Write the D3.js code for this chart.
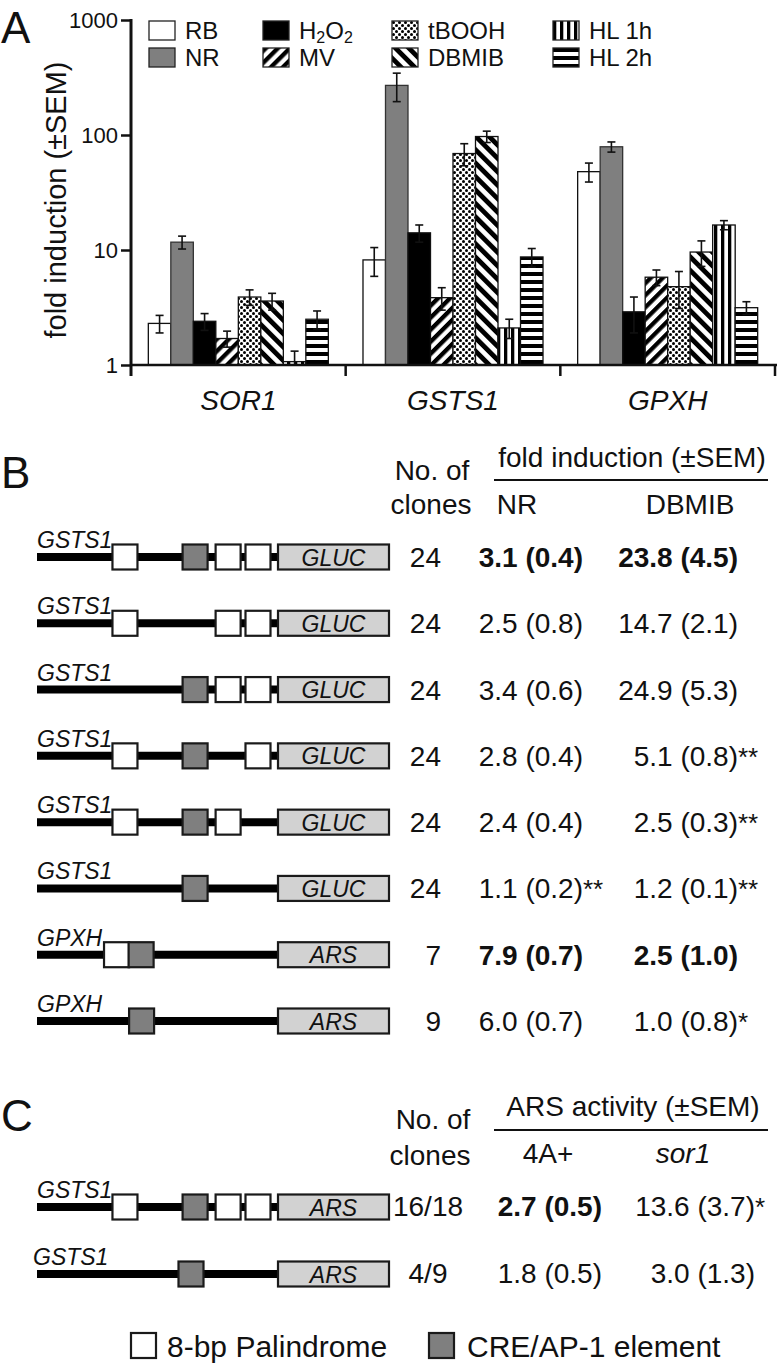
<!DOCTYPE html>
<html>
<head>
<meta charset="utf-8">
<script src="https://cdn.jsdelivr.net/npm/d3@7"></script>
<style>
  body { margin: 0; background: #fff; }
  svg text { fill: #111; }
</style>
</head>
<body>
<div id="fig"></div>
<script>
// ---- Panel A data: fold induction (log scale) ----
const genes = ["SOR1", "GSTS1", "GPXH"];
const treatments = ["RB", "NR", "H2O2", "MV", "tBOOH", "DBMIB", "HL 1h", "HL 2h"];
const sor1Fold = [2.3, 11.7, 2.4, 1.7, 3.9, 3.6, 1.07, 2.5];
const sor1Sem = [0.4, 1.5, 0.4, 0.27, 0.6, 0.6, 0.25, 0.45];
const gsts1Fold = [8.2, 270, 14.1, 3.85, 69, 97, 2.1, 8.7];
const gsts1Sem = [2.3, 75, 2.4, 0.85, 15, 11, 0.4, 1.6];
const gpxhFold = [48, 79, 2.9, 5.8, 4.8, 9.6, 16.5, 3.15];
const gpxhSem = [9, 8, 1.0, 0.9, 1.7, 2.4, 1.5, 0.4];
const yTicks = [1, 10, 100, 1000];

// ---- Panel B data: promoter constructs ----
const geneB = ["GSTS1", "GSTS1", "GSTS1", "GSTS1", "GSTS1", "GSTS1", "GPXH", "GPXH"];
const reporterB = ["GLUC", "GLUC", "GLUC", "GLUC", "GLUC", "GLUC", "ARS", "ARS"];
// element positions along the promoter (0 = start, 100 = reporter)
const palindromeB = [[36.5, 79.3, 91.7], [36.5, 79.3, 91.7], [79.3, 91.7], [36.5, 91.7], [36.5, 79.3], [], [33], []];
const creB = [[65.6], [], [65.6], [65.6], [65.6], [65.6], [43.2], [43.4]];
const clonesB = ["24", "24", "24", "24", "24", "24", "7", "9"];
const nrB = ["3.1 (0.4)", "2.5 (0.8)", "3.4 (0.6)", "2.8 (0.4)", "2.4 (0.4)", "1.1 (0.2)", "7.9 (0.7)", "6.0 (0.7)"];
const nrSigB = ["", "", "", "", "", "**", "", ""];
const dbmibB = ["23.8 (4.5)", "14.7 (2.1)", "24.9 (5.3)", "5.1 (0.8)", "2.5 (0.3)", "1.2 (0.1)", "2.5 (1.0)", "1.0 (0.8)"];
const dbmibSigB = ["", "", "", "**", "**", "**", "", "*"];
const boldB = [true, false, false, false, false, false, true, false];

// ---- Panel C data ----
const geneC = ["GSTS1", "GSTS1"];
const palindromeC = [[36.5, 79.3, 91.7], []];
const creC = [[65.6], [63.9]];
const clonesC = ["16/18", "4/9"];
const wtC = ["2.7 (0.5)", "1.8 (0.5)"];
const wtBoldC = [true, false];
const sor1C = ["13.6 (3.7)", "3.0 (1.3)"];
const sor1SigC = ["*", ""];

const FONT = "'Liberation Sans', Arial, Helvetica, sans-serif";

const svg = d3.select("#fig").append("svg")
  .attr("width", 784)
  .attr("height", 1368)
  .style("font-family", FONT);

// hatch patterns
const defs = svg.append("defs");
function stripePattern(id, size, barW, angle) {
  const p = defs.append("pattern")
    .attr("id", id)
    .attr("patternUnits", "userSpaceOnUse")
    .attr("width", size)
    .attr("height", size)
    .attr("patternTransform", "rotate(" + angle + ")");
  p.append("rect").attr("width", size).attr("height", size).attr("fill", "#fff");
  p.append("rect").attr("width", barW).attr("height", size).attr("fill", "#000");
}
stripePattern("pMV", 8.5, 4.3, 45);
stripePattern("pDB", 9.5, 4.8, -45);
stripePattern("pHL1", 7, 3.3, 0);
stripePattern("pHL2", 8, 4, 90);
const dots = defs.append("pattern")
  .attr("id", "pTB")
  .attr("patternUnits", "userSpaceOnUse")
  .attr("width", 6).attr("height", 6);
dots.append("rect").attr("width", 6).attr("height", 6).attr("fill", "#fff");
dots.append("circle").attr("cx", 1.5).attr("cy", 1.5).attr("r", 1.5).attr("fill", "#000");
dots.append("circle").attr("cx", 4.5).attr("cy", 4.5).attr("r", 1.5).attr("fill", "#000");

const fills = d3.scaleOrdinal()
  .domain(treatments)
  .range(["#fff", "#7f7f7f", "#000", "url(#pMV)", "url(#pTB)", "url(#pDB)", "url(#pHL1)", "url(#pHL2)"]);

function panelLetter(txt, x, y) {
  svg.append("text")
    .attr("x", x).attr("y", y)
    .attr("font-size", 44)
    .text(txt);
}

// ================= Panel A =================
panelLetter("A", 1, 43);

const y = d3.scaleLog().domain([1, 1000]).range([365, 20]).clamp(true);
const xGene = d3.scaleBand().domain(genes).range([131, 775]);
const xTreat = d3.scaleBand().domain(treatments).range([0, xGene.bandwidth()]).paddingOuter(0.77);

const foldData = [sor1Fold, gsts1Fold, gpxhFold];
const semData = [sor1Sem, gsts1Sem, gpxhSem];
const rows = [];
genes.forEach(function(g, gi) {
  treatments.forEach(function(t, ti) {
    rows.push({ gene: g, t: t, v: foldData[gi][ti], e: semData[gi][ti] });
  });
});

const chartA = svg.append("g");

chartA.selectAll("rect.bar")
  .data(rows)
  .enter()
  .append("rect")
  .attr("class", "bar")
  .attr("x", function(d) { return xGene(d.gene) + xTreat(d.t); })
  .attr("width", xTreat.bandwidth())
  .attr("y", function(d) { return y(d.v); })
  .attr("height", function(d) { return y(1) - y(d.v); })
  .attr("fill", function(d) { return fills(d.t); })
  .attr("stroke", function(d) { return d.t === "NR" ? "#333" : "#111"; })
  .attr("stroke-width", 1.3);

// error bars
const err = chartA.selectAll("g.err")
  .data(rows)
  .enter()
  .append("g")
  .attr("class", "err")
  .attr("transform", function(d) {
    return "translate(" + (xGene(d.gene) + xTreat(d.t) + xTreat.bandwidth() / 2) + ",0)";
  })
  .attr("stroke", "#111")
  .attr("stroke-width", 1.6);
err.append("line")
  .attr("y1", function(d) { return y(d.v + d.e); })
  .attr("y2", function(d) { return y(Math.max(d.v - d.e, 1)); });
err.append("line")
  .attr("x1", -4).attr("x2", 4)
  .attr("y1", function(d) { return y(d.v + d.e); })
  .attr("y2", function(d) { return y(d.v + d.e); });
err.filter(function(d) { return d.v - d.e > 1; })
  .append("line")
  .attr("x1", -4).attr("x2", 4)
  .attr("y1", function(d) { return y(d.v - d.e); })
  .attr("y2", function(d) { return y(d.v - d.e); });

// y axis
const yAxis = chartA.append("g")
  .attr("transform", "translate(131,0)")
  .call(d3.axisLeft(y).tickValues(yTicks).tickFormat(d3.format("d")).tickSize(10).tickSizeOuter(0).tickPadding(3));
yAxis.select(".domain").remove();
yAxis.selectAll(".tick line").attr("stroke", "#111").attr("stroke-width", 2.5);
yAxis.selectAll(".tick text").attr("font-size", 22).attr("font-family", FONT).attr("fill", "#111");
chartA.append("line")
  .attr("x1", 131).attr("x2", 131)
  .attr("y1", y(1000) - 1).attr("y2", 376)
  .attr("stroke", "#111").attr("stroke-width", 3);

// x axis
const xAxis = chartA.append("g")
  .attr("transform", "translate(0,365)")
  .call(d3.axisBottom(xGene).tickSize(0).tickPadding(25));
xAxis.select(".domain").remove();
xAxis.selectAll(".tick text")
  .attr("font-size", 28)
  .attr("font-style", "italic")
  .attr("font-family", FONT)
  .attr("fill", "#111");
chartA.append("line")
  .attr("x1", 131).attr("x2", 777)
  .attr("y1", 365).attr("y2", 365)
  .attr("stroke", "#111").attr("stroke-width", 2.5);
const edges = genes.map(function(g) { return xGene(g); }).concat([xGene.range()[1]]);
chartA.selectAll("line.edge")
  .data(edges.slice(1))
  .enter()
  .append("line")
  .attr("class", "edge")
  .attr("x1", function(d) { return d; })
  .attr("x2", function(d) { return d; })
  .attr("y1", 365).attr("y2", 376)
  .attr("stroke", "#111").attr("stroke-width", 2.5);

chartA.append("text")
  .attr("transform", "translate(66,200) rotate(-90)")
  .attr("text-anchor", "middle")
  .attr("font-size", 29)
  .text("fold induction (\u00B1SEM)");

// legend
const legendColX = [149, 263, 392, 553];
const legend = chartA.selectAll("g.leg")
  .data(treatments)
  .enter()
  .append("g")
  .attr("class", "leg")
  .attr("transform", function(d, i) {
    return "translate(" + legendColX[Math.floor(i / 2)] + "," + (21 + (i % 2) * 27) + ")";
  });
legend.append("rect")
  .attr("width", 26).attr("height", 19)
  .attr("fill", function(d) { return fills(d); })
  .attr("stroke", "#222").attr("stroke-width", 1.3);
legend.append("text")
  .attr("x", 36).attr("y", 18)
  .attr("font-size", 24)
  .each(function(d) {
    const t = d3.select(this);
    if (d === "H2O2") {
      t.append("tspan").text("H");
      t.append("tspan").attr("font-size", 16).attr("dy", 4).text("2");
      t.append("tspan").attr("dy", -4).text("O");
      t.append("tspan").attr("font-size", 16).attr("dy", 4).text("2");
    } else {
      t.text(d);
    }
  });

// ================= Constructs helper =================
const promoterX = d3.scaleLinear().domain([0, 100]).range([37, 278]);
const BOX = 25;
const REPORTER_W = 111;

function drawConstruct(cy, gene, labelX, reporter, pal, cre) {
  const g = svg.append("g");
  g.append("line")
    .attr("x1", promoterX(0)).attr("x2", promoterX(100))
    .attr("y1", cy).attr("y2", cy)
    .attr("stroke", "#000").attr("stroke-width", 8);
  g.append("text")
    .attr("x", labelX).attr("y", cy - 9)
    .attr("font-size", 23)
    .attr("font-style", "italic")
    .text(gene);
  g.selectAll("rect.pal")
    .data(pal)
    .enter()
    .append("rect")
    .attr("class", "pal")
    .attr("x", function(d) { return promoterX(d) - BOX / 2; })
    .attr("y", cy - BOX / 2)
    .attr("width", BOX).attr("height", BOX)
    .attr("fill", "#fff").attr("stroke", "#1a1a1a").attr("stroke-width", 2.2);
  g.selectAll("rect.cre")
    .data(cre)
    .enter()
    .append("rect")
    .attr("class", "cre")
    .attr("x", function(d) { return promoterX(d) - BOX / 2; })
    .attr("y", cy - BOX / 2)
    .attr("width", BOX).attr("height", BOX)
    .attr("fill", "#7f7f7f").attr("stroke", "#1a1a1a").attr("stroke-width", 2.2);
  g.append("rect")
    .attr("x", promoterX(100)).attr("y", cy - BOX / 2)
    .attr("width", REPORTER_W).attr("height", BOX)
    .attr("fill", "#d2d2d2").attr("stroke", "#1a1a1a").attr("stroke-width", 2.2);
  g.append("text")
    .attr("x", promoterX(100) + REPORTER_W / 2).attr("y", cy + 8.5)
    .attr("text-anchor", "middle")
    .attr("font-size", 23)
    .attr("font-style", "italic")
    .text(reporter);
}

function valueText(x, yb, txt, sig, bold) {
  svg.append("text")
    .attr("x", x).attr("y", yb)
    .attr("text-anchor", "end")
    .attr("font-size", 28)
    .attr("font-weight", bold ? "bold" : "normal")
    .text(txt);
  if (sig) {
    svg.append("text")
      .attr("x", x).attr("y", yb)
      .attr("font-size", 26)
      .text(sig);
  }
}

// ================= Panel B =================
panelLetter("B", 1, 488);

svg.append("text").attr("x", 432).attr("y", 480).attr("text-anchor", "middle").attr("font-size", 28).text("No. of");
svg.append("text").attr("x", 431).attr("y", 514).attr("text-anchor", "middle").attr("font-size", 28).text("clones");
svg.append("text").attr("x", 632).attr("y", 467).attr("text-anchor", "middle").attr("font-size", 28).text("fold induction (\u00B1SEM)");
svg.append("line").attr("x1", 494).attr("x2", 768).attr("y1", 480).attr("y2", 480).attr("stroke", "#111").attr("stroke-width", 2.2);
svg.append("text").attr("x", 517).attr("y", 514).attr("text-anchor", "middle").attr("font-size", 28).text("NR");
svg.append("text").attr("x", 690).attr("y", 514).attr("text-anchor", "middle").attr("font-size", 28).text("DBMIB");

const rowB = d3.scalePoint().domain(d3.range(geneB.length)).range([557, 1021]);
geneB.forEach(function(g, i) {
  const cy = rowB(i);
  drawConstruct(cy, g, 37, reporterB[i], palindromeB[i], creB[i]);
  svg.append("text").attr("x", 441).attr("y", cy + 10).attr("text-anchor", "end").attr("font-size", 28).text(clonesB[i]);
  valueText(583, cy + 10, nrB[i], nrSigB[i], boldB[i]);
  valueText(738, cy + 10, dbmibB[i], dbmibSigB[i], boldB[i]);
});

// ================= Panel C =================
panelLetter("C", 1, 1131);

svg.append("text").attr("x", 433).attr("y", 1129).attr("text-anchor", "middle").attr("font-size", 28).text("No. of");
svg.append("text").attr("x", 430).attr("y", 1165).attr("text-anchor", "middle").attr("font-size", 28).text("clones");
svg.append("text").attr("x", 633).attr("y", 1116).attr("text-anchor", "middle").attr("font-size", 28).text("ARS activity (\u00B1SEM)");
svg.append("line").attr("x1", 494).attr("x2", 768).attr("y1", 1130).attr("y2", 1130).attr("stroke", "#111").attr("stroke-width", 2.2);
svg.append("text").attr("x", 548).attr("y", 1163).attr("text-anchor", "middle").attr("font-size", 28).text("4A+");
svg.append("text").attr("x", 683).attr("y", 1163).attr("text-anchor", "middle").attr("font-size", 28).attr("font-style", "italic").text("sor1");

const rowC = d3.scalePoint().domain(d3.range(geneC.length)).range([1207, 1274]);
geneC.forEach(function(g, i) {
  const cy = rowC(i);
  drawConstruct(cy, g, i === 0 ? 37 : 33, "ARS", palindromeC[i], creC[i]);
  svg.append("text").attr("x", 428).attr("y", cy + 9).attr("text-anchor", "middle").attr("font-size", 28).text(clonesC[i]);
  valueText(602, cy + 9, wtC[i], "", wtBoldC[i]);
  valueText(755, cy + 9, sor1C[i], sor1SigC[i], false);
});

// bottom legend
svg.append("rect").attr("x", 131).attr("y", 1333).attr("width", 25).attr("height", 25)
  .attr("fill", "#fff").attr("stroke", "#1a1a1a").attr("stroke-width", 2.2);
svg.append("text").attr("x", 167).attr("y", 1357).attr("font-size", 30).text("8-bp Palindrome");
svg.append("rect").attr("x", 429).attr("y", 1333).attr("width", 25).attr("height", 25)
  .attr("fill", "#7f7f7f").attr("stroke", "#1a1a1a").attr("stroke-width", 2.2);
svg.append("text").attr("x", 467).attr("y", 1357).attr("font-size", 30).text("CRE/AP-1 element");
</script>
</body>
</html>
